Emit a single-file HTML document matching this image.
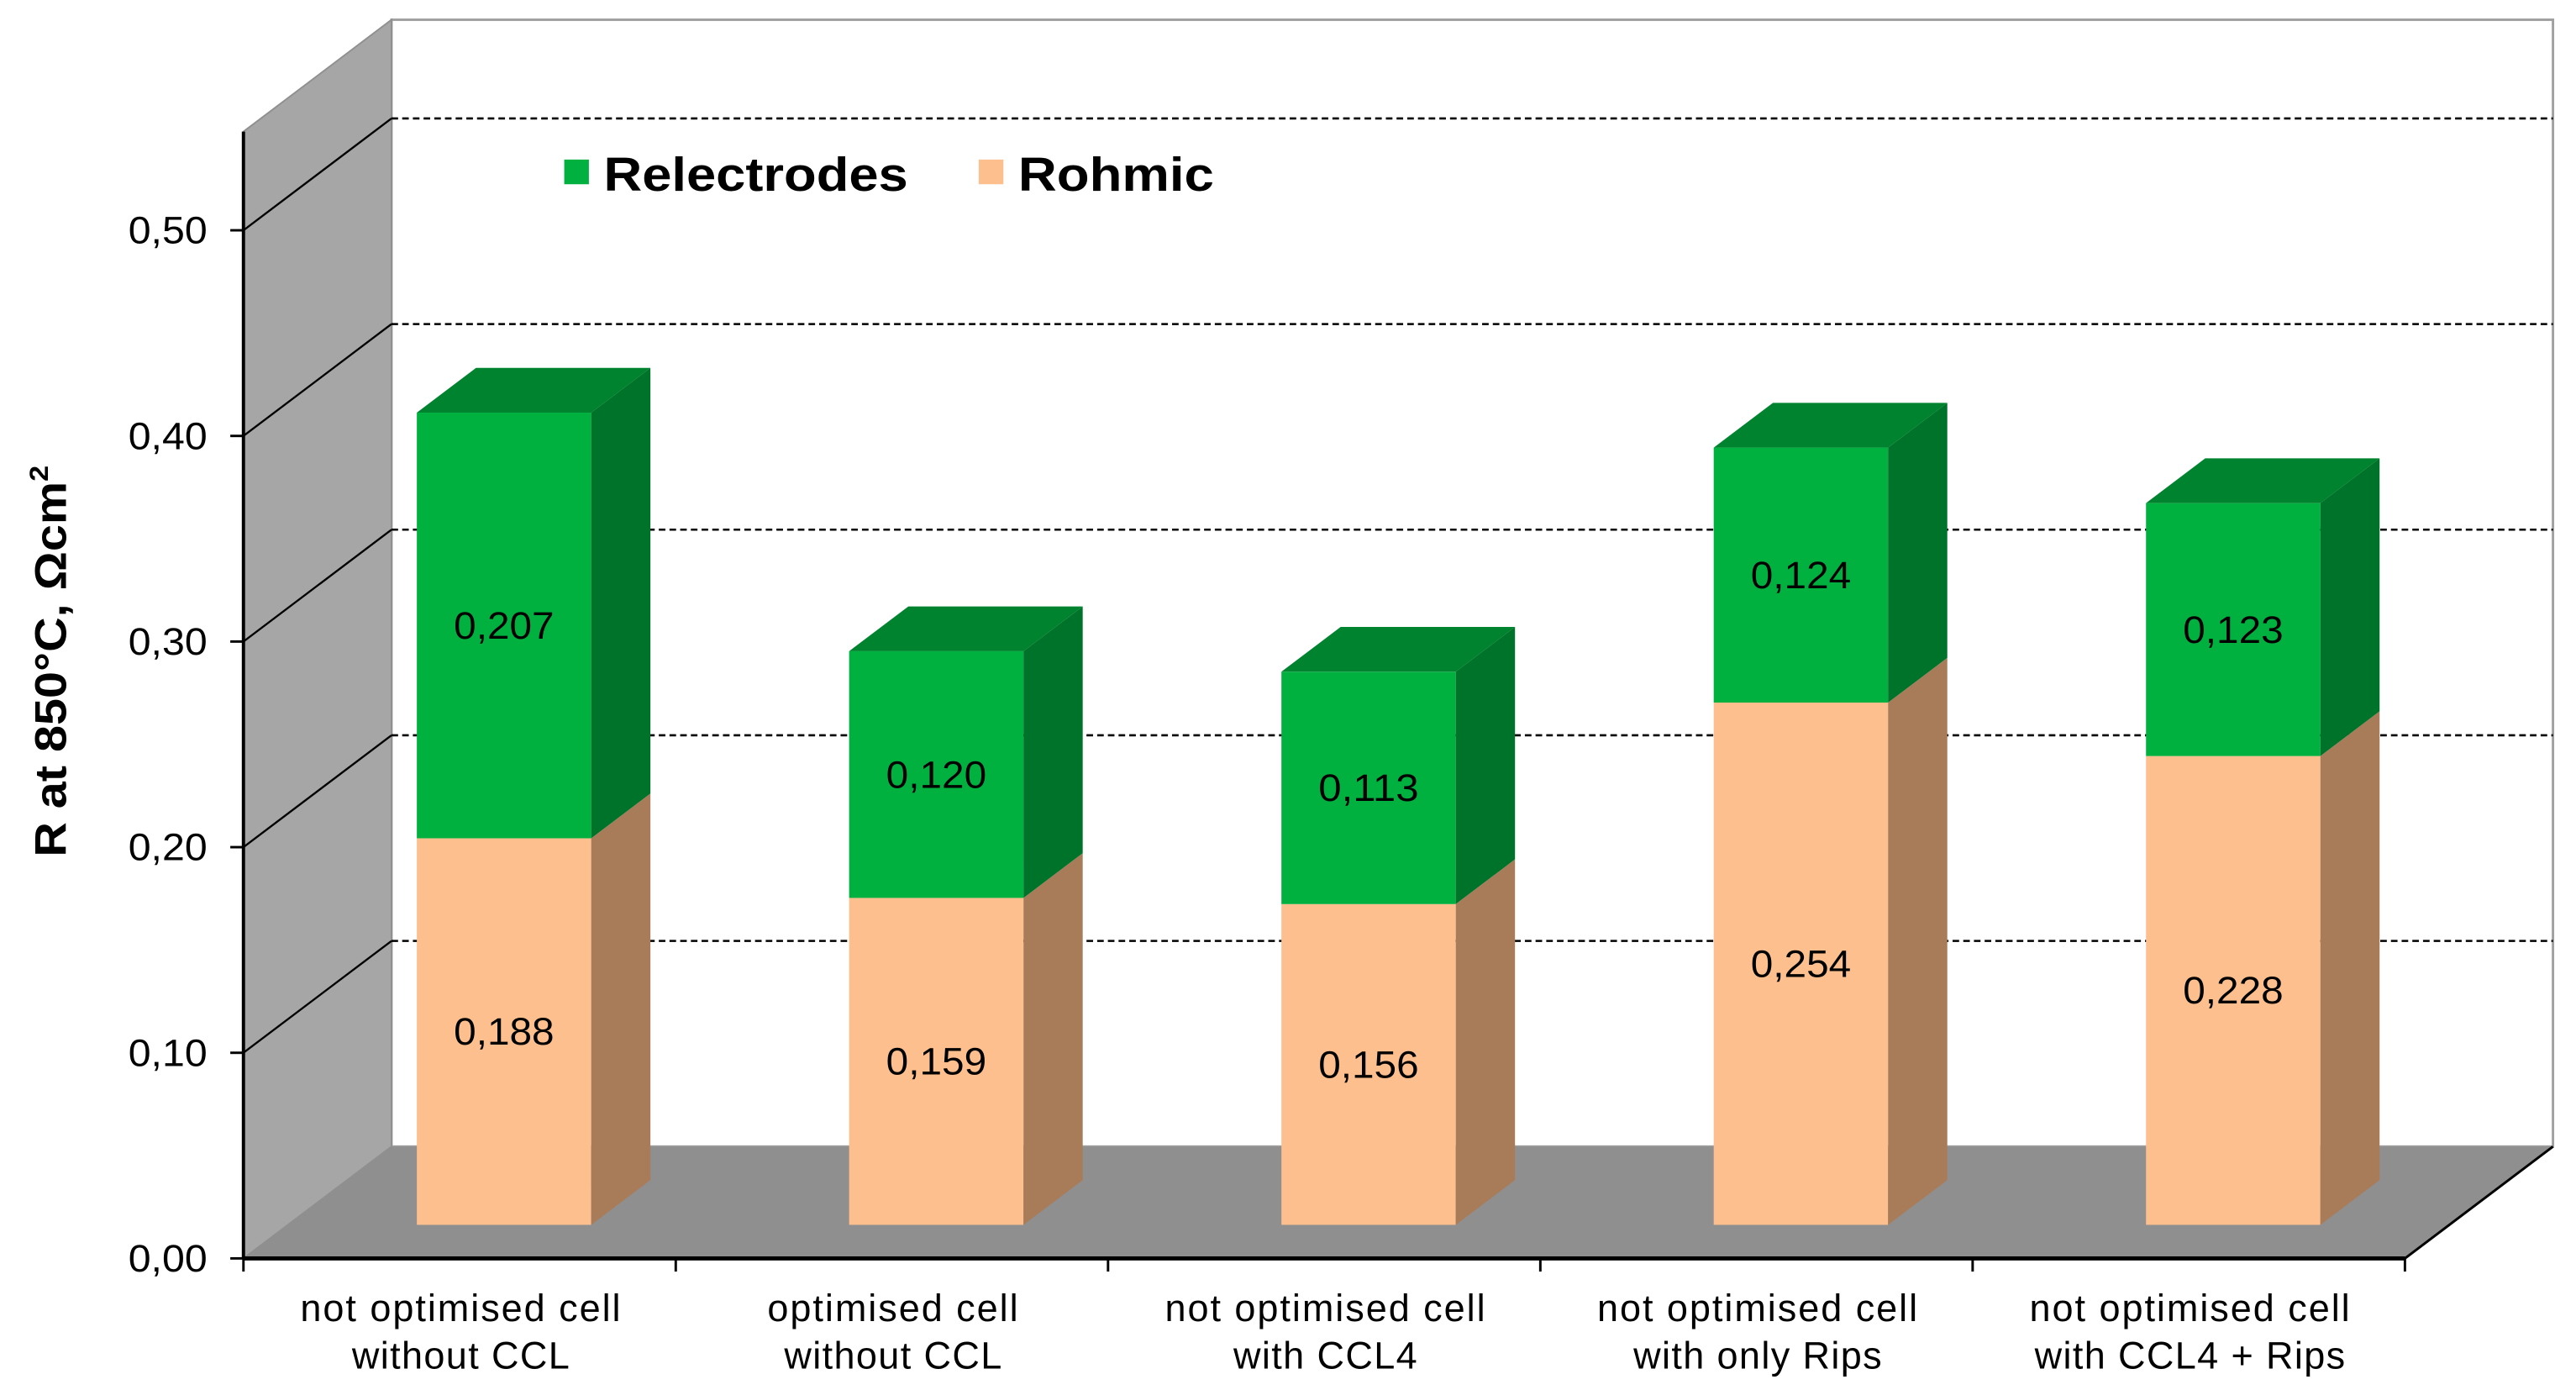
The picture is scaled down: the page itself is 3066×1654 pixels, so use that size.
<!DOCTYPE html>
<html><head><meta charset="utf-8">
<style>
html,body{margin:0;padding:0;background:#fff;}
svg{display:block;}
text{font-family:"Liberation Sans",Arial,sans-serif;}
</style></head>
<body>
<svg id="chart" width="3066" height="1654" viewBox="0 0 1566 845" preserveAspectRatio="none" xmlns="http://www.w3.org/2000/svg">
<g id="walls"></g>
<g id="grid"></g>
<g id="axes"></g>
<g id="bars"></g>
<text transform="translate(40,402) rotate(-90)" text-anchor="middle" font-size="27" font-weight="bold" textLength="238" lengthAdjust="spacingAndGlyphs">R at 850°C,  Ωcm<tspan font-size="16" dy="-11">2</tspan></text>
<g>
<rect x="343" y="97" width="15" height="15" fill="#00b140"/>
<text x="367" y="116" font-size="29" font-weight="bold" textLength="185" lengthAdjust="spacingAndGlyphs">Relectrodes</text>
<rect x="595" y="97" width="15" height="15" fill="#fdbf8d"/>
<text x="619" y="116" font-size="29" font-weight="bold" textLength="119" lengthAdjust="spacingAndGlyphs">Rohmic</text>
</g>
</svg>
<script>
const categories1 = ["not optimised cell","optimised cell","not optimised cell","not optimised cell","not optimised cell"];
const categories2 = ["without CCL","without CCL","with CCL4","with only Rips","with CCL4 + Rips"];
const rohmic = [0.188, 0.159, 0.156, 0.254, 0.228];
const relectrodes = [0.207, 0.120, 0.113, 0.124, 0.123];
const rohmicLabels = ["0,188","0,159","0,156","0,254","0,228"];
const relLabels = ["0,207","0,120","0,113","0,124","0,123"];
const yTicks = [0, 0.1, 0.2, 0.3, 0.4, 0.5];
const yTickLabels = ["0,00","0,10","0,20","0,30","0,40","0,50"];

const NS="http://www.w3.org/2000/svg";
const X0=148, Y0=765, XEND=1462, DX=90, DY=-68, SCALE=1250;
const n=categories1.length, catW=(XEND-X0)/n, barW=106;
function yv(v,d){return Y0 - v*SCALE + d*DY;}
function xc(i,d){return X0 + catW*(i+0.5) + d*DX;}
function mk(tag,attrs,parent){const e=document.createElementNS(NS,tag);for(const k in attrs)e.setAttribute(k,attrs[k]);parent.appendChild(e);return e;}
const walls=document.getElementById('walls'),grid=document.getElementById('grid'),axes=document.getElementById('axes'),bars=document.getElementById('bars');

let bw=mk('rect',{x:X0+DX,y:12,width:XEND-X0,height:yv(0,1)-12,fill:'#fff',stroke:'#a0a0a0','stroke-width':1.5},walls);


let lw=mk('polygon',{points:`${X0},80 ${X0+DX},12 ${X0+DX},${yv(0,1)} ${X0},${Y0}`,fill:'#a6a6a6',stroke:'#909090','stroke-width':1},walls);


let fl=mk('polygon',{points:`${X0},${Y0} ${X0+DX},${yv(0,1)} ${XEND+DX},${yv(0,1)} ${XEND},${Y0}`,fill:'#8f8f8f'},walls);


let fe=mk('line',{x1:XEND,y1:Y0,x2:XEND+DX,y2:yv(0,1),stroke:'#000','stroke-width':1.5},walls);



yTicks.forEach((v,i)=>{
  if(v>0){
    let g=mk('line',{x1:X0+DX,y1:yv(v,1),x2:XEND+DX,y2:yv(v,1),stroke:'#000','stroke-width':1.3,'stroke-dasharray':'4,2.5'},grid);
    
    
    let d=mk('line',{x1:X0,y1:yv(v,0),x2:X0+DX,y2:yv(v,1),stroke:'#000','stroke-width':1.2},grid);
    
    
  }
  let t=mk('line',{x1:X0-8,y1:yv(v,0),x2:X0,y2:yv(v,0),stroke:'#000','stroke-width':1.5},axes);
  
  
  let l=mk('text',{x:126,y:yv(v,0)+8,'text-anchor':'end','font-size':23,textLength:48,lengthAdjust:'spacingAndGlyphs'},axes);
  l.textContent=yTickLabels[i];
  
  
});
let ya=mk('line',{x1:X0,y1:80,x2:X0,y2:Y0,stroke:'#000','stroke-width':2},axes);


let xa=mk('line',{x1:X0,y1:Y0,x2:XEND,y2:Y0,stroke:'#000','stroke-width':2.5},axes);


for(let i=0;i<=n;i++){
  let t=mk('line',{x1:X0+catW*i,y1:Y0,x2:X0+catW*i,y2:Y0+8,stroke:'#000','stroke-width':1.5},axes);
  
  
}
for(let i=0;i<n;i++){
  let a=mk('text',{x:xc(i,0)+1,y:803,'text-anchor':'middle','font-size':23,'letter-spacing':1.0},axes);
  a.textContent=categories1[i];
  
  
  let b=mk('text',{x:xc(i,0)+1,y:832,'text-anchor':'middle','font-size':23,'letter-spacing':0.7},axes);
  b.textContent=categories2[i];
  
  
}

function box(i,v0,v1,front,side,top,name){
  const g=mk('g',{},bars);
  
  
  const d0=0.3,d1=0.7;
  const xl=xc(i,d0)-barW/2, xr=xl+barW;
  const yb=yv(v0,d0), yt=yv(v1,d0);
  const ddx=(d1-d0)*DX, ddy=(d1-d0)*DY;
  mk('rect',{x:xl,y:yt,width:barW,height:yb-yt,fill:front},g);
  mk('polygon',{points:`${xr},${yb} ${xr+ddx},${yb+ddy} ${xr+ddx},${yt+ddy} ${xr},${yt}`,fill:side},g);
  if(top) mk('polygon',{points:`${xl},${yt} ${xl+ddx},${yt+ddy} ${xr+ddx},${yt+ddy} ${xr},${yt}`,fill:top},g);
  return {x:xl+barW/2,ym:(yb+yt)/2};
}
for(let i=0;i<n;i++){
  const o=box(i,0,rohmic[i],'#fdbf8d','#a97c59',null,'bar-rohmic-'+(i+1));
  const tot=rohmic[i]+relectrodes[i];
  const r=box(i,rohmic[i],tot,'#00b140','#00732a','#00832f','bar-relectrodes-'+(i+1));
  let t1=mk('text',{x:o.x,y:o.ym+8,'text-anchor':'middle','font-size':23,textLength:61,lengthAdjust:'spacingAndGlyphs'},bars);
  t1.textContent=rohmicLabels[i];
  
  
  let t2=mk('text',{x:r.x,y:r.ym+8,'text-anchor':'middle','font-size':23,textLength:61,lengthAdjust:'spacingAndGlyphs'},bars);
  t2.textContent=relLabels[i];
  
  
}
</script>
</body></html>
